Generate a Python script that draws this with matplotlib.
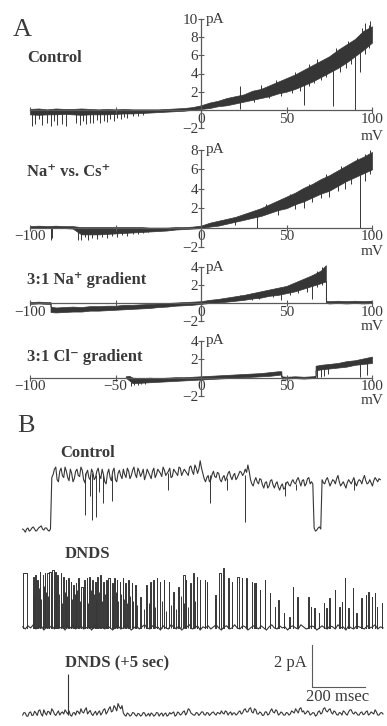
import numpy as np
import matplotlib
matplotlib.use('Agg')
import matplotlib.pyplot as plt

plt.rcParams['font.family'] = ['Liberation Serif', 'DejaVu Serif']

W, H = 387, 726
TRACE = '#363636'
AXIS = '#5a5a5a'
TEXT = '#3a3a3a'

# ---------------- A : current during voltage ramps (pA vs mV) ----------------
volt5 = list(range(-100, 101, 5))

# Control: noise band (upper / lower edge) and brief events (mV, bottom, top)
ctrl_hi = [0.1, 0.15, 0.05, 0.15, 0.1, 0.1, 0.15, 0.1, 0.05, 0.1, 0.05, 0.1, 0.05, 0.05, 0.05, 0.05, 0.1,
           0.15, 0.2, 0.3, 0.5, 0.8, 1.0, 1.3, 1.5, 1.7, 2.1, 2.3, 2.7, 3.1, 3.5, 3.9, 4.4, 4.9, 5.4,
           5.9, 6.6, 7.2, 7.8, 8.7, 9.2]
ctrl_lo = [-0.5, -0.55, -0.5, -0.5, -0.45, -0.5, -0.55, -0.5, -0.5, -0.5, -0.45, -0.4, -0.4, -0.35, -0.3,
           -0.25, -0.2, -0.15, -0.1, 0.0, 0.1, 0.2, 0.4, 0.5, 0.7, 0.9, 1.1, 1.3, 1.5, 1.8, 2.0, 2.3,
           2.7, 3.1, 3.6, 4.1, 4.6, 5.2, 5.9, 6.6, 7.4]
ctrl_dips = [(-99, -1.8, -0.2), (-97, -1.6, -0.2), (-95, -1.0, -0.2), (-93, -1.7, -0.2), (-90, -1.5, -0.2),
             (-88, -1.8, -0.2), (-86, -1.2, -0.2), (-84, -1.7, -0.2), (-81, -1.6, -0.2), (-79, -1.8, -0.2),
             (-73, -1.5, -0.2), (-71, -1.7, -0.2), (-69, -1.2, -0.2), (-67, -1.6, -0.2), (-65, -1.4, -0.2),
             (-63, -1.5, -0.2), (-61, -1.1, -0.2), (-59, -1.4, -0.2), (-57, -1.2, -0.2), (-55, -1.3, -0.2),
             (-53, -1.0, -0.2), (-51, -1.2, -0.2), (-49, -0.9, -0.2), (-47, -1.0, -0.2), (-45, -0.8, -0.2),
             (-43, -0.9, -0.2), (-40, -0.7, -0.2), (-37, -0.7, -0.2), (-34, -0.6, -0.2),
             (23, 0.1, 2.6), (31, 0.9, 1.8), (40, 1.3, 2.6), (47, 1.5, 3.0), (53, 1.8, 3.4), (58, 2.1, 4.0),
             (60, 0.5, 3.6), (63, 2.6, 5.0), (66, 3.0, 4.9), (70, 3.3, 5.2), (73, 3.6, 5.6), (77, 0.4, 5.5),
             (81, 4.2, 6.4), (85, 4.6, 7.0), (88, 5.0, 7.4), (90, 0.0, 7.3), (93, 4.2, 8.3), (96, 6.2, 9.6),
             (98, 6.8, 9.3), (35, 1.6, 2.7), (44, 2.2, 3.3), (55, 2.8, 4.2), (68, 4.0, 5.6), (79, 5.4, 6.8),
             (86, 6.0, 7.6), (94, 7.4, 9.0), (99, 8.0, 9.8)]

# Na+ vs. Cs+
nacs_hi = [0.15, 0.2, 0.15, 0.2, 0.15, 0.15, 0.05, 0.05, 0.05, 0.05, 0.05, 0.05, 0.05, 0.05, 0.0, 0.0, 0.0,
           0.05, 0.05, 0.1, 0.2, 0.5, 0.7, 0.9, 1.1, 1.4, 1.7, 2.0, 2.4, 2.8, 3.2, 3.6, 4.1, 4.5, 5.0,
           5.4, 5.9, 6.4, 6.9, 7.3, 7.8]
nacs_lo = [-0.05, 0.0, -0.05, 0.0, -0.05, -0.1, -0.7, -0.7, -0.7, -0.65, -0.6, -0.55, -0.5, -0.45, -0.4,
           -0.35, -0.3, -0.2, -0.15, -0.1, -0.05, 0.1, 0.2, 0.4, 0.6, 0.8, 1.0, 1.2, 1.5, 1.8, 2.0, 2.4,
           2.7, 3.1, 3.5, 3.8, 4.3, 4.8, 5.2, 5.6, 6.0]
nacs_dips = [(-88, -1.3, 0.0), (-87, -1.1, 0.0), (-72, -1.3, -0.1), (-70, -1.3, -0.1), (-68, -1.0, -0.1),
             (-66, -1.3, -0.1), (-64, -1.1, -0.1), (-61, -1.2, -0.1), (-58, -1.0, -0.1), (-55, -1.1, -0.1),
             (-52, -0.9, -0.1), (-49, -1.0, -0.1), (-46, -0.8, -0.1), (-43, -0.9, -0.1), (-40, -0.7, -0.1),
             (-37, -0.7, -0.1), (-34, -0.6, -0.1), (-31, -0.5, -0.1),
             (20, 0.3, 1.0), (33, 0.0, 1.4), (45, 1.3, 2.6), (55, 1.9, 3.4), (60, 2.0, 3.6), (65, 2.6, 4.2),
             (70, 3.0, 4.6), (75, 3.2, 5.2), (80, 3.8, 5.4), (84, 4.0, 6.0), (88, 4.5, 6.6), (93, 0.0, 6.2),
             (96, 4.8, 7.6), (99, 5.5, 8.0), (38, 1.5, 2.4), (52, 2.4, 3.5), (63, 3.3, 4.5), (73, 4.0, 5.5),
             (82, 4.8, 6.3), (91, 5.6, 7.2)]

# 3:1 Na+ gradient
na3_v = [-100, -95, -90, -88, -88, -85, -80, -75, -70, -65, -60, -55, -50, -45, -40, -35, -30, -25, -20,
         -15, -10, -5, 0, 5, 10, 15, 20, 25, 30, 35, 40, 45, 50, 55, 60, 65, 70, 73, 73, 75, 80, 85,
         90, 95, 100]
na3_hi = [0.1, 0.15, 0.1, 0.1, -0.4, -0.5, -0.45, -0.4, -0.45, -0.35, -0.35, -0.3, -0.3, -0.2, -0.2,
          -0.15, -0.1, -0.05, 0.0, 0.05, 0.1, 0.15, 0.2, 0.35, 0.45, 0.6, 0.75, 0.9, 1.1, 1.3, 1.5, 1.7,
          1.9, 2.3, 2.7, 3.1, 3.6, 4.2, 0.25, 0.2, 0.25, 0.2, 0.25, 0.2, 0.25]
na3_lo = [-0.1, -0.05, -0.1, -0.1, -1.0, -1.05, -1.0, -0.95, -0.95, -0.85, -0.85, -0.8, -0.75, -0.7,
          -0.65, -0.6, -0.55, -0.45, -0.4, -0.3, -0.25, -0.2, -0.1, 0.0, 0.05, 0.15, 0.25, 0.35, 0.5,
          0.6, 0.8, 0.9, 1.1, 1.3, 1.6, 1.9, 2.2, 2.4, 0.0, -0.05, 0.0, -0.05, 0.0, -0.05, 0.0]
na3_dips = [(23, 0.3, 0.9), (30, 0.3, 1.0), (34, 0.4, 1.2), (42, 0.7, 1.5), (47, 0.3, 1.6), (52, 0.9, 2.0),
            (57, 1.1, 2.3), (62, 1.2, 2.8), (65, 0.4, 3.1), (68, 1.8, 3.6), (71, 2.0, 4.0)]

# 3:1 Cl- gradient
cl3_v = [-44, -42, -40, -35, -30, -25, -20, -15, -10, -5, 0, 5, 10, 15, 20, 25, 30, 35, 40, 45, 47, 47,
         50, 55, 60, 65, 67, 67, 70, 75, 80, 85, 90, 95, 100]
cl3_hi = [0.15, 0.2, 0.0, -0.05, 0.0, -0.05, 0.0, 0.05, 0.05, 0.1, 0.15, 0.2, 0.25, 0.3, 0.35, 0.4, 0.45,
          0.5, 0.6, 0.7, 0.7, 0.15, 0.1, 0.15, 0.1, 0.15, 0.2, 1.3, 1.4, 1.5, 1.6, 1.8, 1.9, 2.1, 2.3]
cl3_lo = [0.0, -0.3, -0.6, -0.55, -0.5, -0.45, -0.4, -0.35, -0.3, -0.25, -0.2, -0.15, -0.1, -0.05, 0.0,
          0.05, 0.1, 0.15, 0.2, 0.3, 0.35, -0.1, -0.1, -0.05, -0.1, -0.05, -0.05, 0.8, 0.9, 1.0, 1.1,
          1.2, 1.4, 1.5, 1.6]
cl3_dips = [(-41, -0.9, -0.2), (-39, -0.8, -0.2), (-37, -0.85, -0.2), (-35, -0.7, -0.2), (-33, -0.7, -0.2),
            (68, 0.0, 1.1), (70, 0.1, 1.2), (72, 0.2, 1.2), (74, 0.4, 1.3), (93, 0.1, 1.7), (97, 0.3, 1.9)]

# ---------------- B : single-channel records (pA vs msec) ----------------
# control record, samples at 10, 20, ... msec and the in-between samples at 15, 25, ... msec
b_ctrl = [0.05, -0.1, 0.1, 0.0, 0.15, -0.05, 0.1, 0.2, 0.0, 0.1, -0.05,
          2.5, 2.9, 2.4, 2.8, 2.6, 3.0, 2.5, 2.9, 2.3, 2.8, 2.6, 3.0, 2.4, 2.7, 2.5, 2.9, 2.4, 2.8, 2.6,
          2.9, 2.3, 2.7, 2.5, 2.8, 2.4, 2.7, 2.6,
          2.9, 2.5, 2.8, 2.6, 3.0, 2.5, 2.8, 2.7, 2.4, 2.9, 2.6, 2.8, 2.5, 2.9, 2.7, 3.0, 2.6, 2.8, 2.5,
          2.9, 2.7, 3.0, 2.6, 2.9, 2.7, 3.0, 2.8, 3.1, 2.7,
          3.3,
          2.7, 2.3, 2.6, 2.4, 2.8, 2.5, 2.7, 2.3, 2.6, 2.5, 2.8, 2.4, 2.7, 2.5, 2.8, 2.6, 2.9,
          3.1,
          2.4, 2.1, 2.5, 2.2, 2.4, 2.0, 2.3, 2.1, 2.4, 2.0, 2.3, 1.9, 2.2, 2.0, 2.3, 2.1, 2.4, 2.2, 2.5,
          2.1, 2.4, 2.2, 2.5, 2.3,
          0.1, 0.0, 0.15,
          2.4, 2.2, 2.5, 2.1, 2.4, 2.2, 2.6, 2.1, 2.3, 2.0, 2.4, 2.2, 2.5, 2.1, 2.4, 2.2, 2.6, 2.2, 2.4,
          2.1, 2.5, 2.3, 2.4]
b_ctrl_mid = [0.0, 0.05, -0.05, 0.1, 0.05, 0.0, 0.15, 0.05, 0.1, 0.0,
              0.05,
              2.65, 3.0, 2.3, 2.95, 2.5, 2.8, 2.35, 2.7, 2.45, 2.9, 2.55, 2.85, 2.25, 2.85, 2.4, 2.75,
              2.5, 2.95, 2.45, 2.65, 2.2, 2.9, 2.35, 2.95, 2.3, 2.85,
              2.45,
              2.65, 2.95, 2.45, 2.85, 2.65, 2.95, 2.55, 2.9, 2.6, 2.75, 2.45, 2.95, 2.65, 2.8, 2.55, 2.85,
              2.7, 2.95, 2.55, 2.8, 2.6, 2.95, 2.75, 2.8, 2.6, 3.05, 2.65, 2.95,
              2.9, 2.95,
              2.45, 2.5, 2.3, 2.65, 2.55, 2.75, 2.4, 2.5, 2.35, 2.7, 2.55, 2.6, 2.4, 2.65, 2.75, 2.7,
              2.75, 2.8,
              2.2, 2.35, 2.3, 2.45, 2.15, 2.25, 2.0, 2.35, 2.15, 2.2, 2.05, 2.1, 1.95, 2.25, 2.15, 2.3,
              2.25, 2.4, 2.3, 2.35, 2.1, 2.45, 2.2,
              2.2, -0.05, 0.1, 0.05,
              2.25, 2.4, 2.3, 2.25, 2.35, 2.45, 2.3, 2.2, 2.15, 2.25, 2.3, 2.35, 2.25, 2.3, 2.35, 2.45,
              2.35, 2.25, 2.25, 2.35, 2.4, 2.45]
b_ctrl_dip_t = [245, 265, 272, 287, 300, 313, 347, 560, 717, 780, 849, 1000, 1040, 1260]
b_ctrl_dip_lo = [0.7, 1.6, 0.5, 0.6, 1.8, 1.3, 1.4, 1.9, 1.3, 1.9, 0.4, 1.6, 1.9, 1.9]
b_ctrl_dip_hi = [2.7, 2.6, 2.7, 2.6, 2.7, 2.6, 2.6, 2.7, 2.6, 2.5, 2.6, 2.3, 2.2, 2.4]

# DNDS record: closed-level noise every 10 msec, openings (start msec, amplitude pA)
b_dnds_base = [0.05, -0.05, 0.1, 0.0, 0.15, -0.05, 0.05, 0.1, -0.1, 0.05,
               0.0, 0.1, -0.05, 0.15, 0.0, 0.05, -0.1, 0.1, 0.0, 0.15,
               -0.05, 0.05, 0.1, -0.05, 0.0, 0.1, -0.1, 0.05, 0.15, 0.0,
               0.05, -0.05, 0.1, 0.0, -0.1, 0.05, 0.1, -0.05, 0.0, 0.15,
               0.05, -0.1, 0.0, 0.1, -0.05, 0.05, 0.15, 0.0, -0.05, 0.1,
               0.0, 0.05, -0.1, 0.1, 0.0, -0.05, 0.15, 0.05, -0.05, 0.1,
               -0.1, 0.0, 0.05, 0.15, -0.05, 0.0, 0.1, -0.1, 0.05, 0.0,
               0.1, -0.05, 0.05, 0.15, 0.0, -0.1, 0.05, 0.1, -0.05, 0.0,
               0.15, 0.0, -0.05, 0.1, 0.05, -0.1, 0.0, 0.1, 0.05, -0.05,
               0.1, 0.0, -0.1, 0.05, 0.15, 0.0, -0.05, 0.1, 0.0, 0.05,
               -0.1, 0.05, 0.1, 0.0, -0.05, 0.15, 0.05, -0.05, 0.0, 0.1,
               0.05, -0.1, 0.0, 0.1, 0.0, -0.05, 0.1, 0.05, -0.05, 0.15,
               0.0, 0.05, -0.1, 0.1, 0.0, -0.05, 0.1, 0.05, 0.0, -0.05,
               0.1, 0.0, 0.05, 0.15, -0.05, 0.05, 0.0]
dnds_t = [12, 48, 57, 65, 75, 86, 94, 103, 111, 122, 132, 141, 153, 164, 172, 182, 191, 201, 211, 220,
          230, 242, 252, 262, 272, 283, 292, 302, 315, 325, 333, 346, 356, 365, 377, 387, 398, 409, 421,
          434, 453, 476, 491, 503, 516, 528, 543, 562, 579, 598, 614, 626, 642, 654, 667, 679, 698, 704,
          736, 752, 765, 786, 799, 820, 836, 853, 874, 883, 890, 905, 924, 943, 962, 975, 996, 1016,
          1029, 1046, 1088, 1097, 1110, 1128, 1147, 1155, 1167, 1188, 1205, 1214, 1226, 1239, 1255,
          1268, 1287, 1304, 1314, 1327, 1339, 1346, 1365]
dnds_a = [2.6, 2.44, 2.52, 2.29, 2.68, 2.52, 2.6, 2.6, 2.68, 2.76, 2.68, 2.52, 2.6, 2.44, 2.29, 2.37,
          2.21, 2.05, 2.13, 2.37, 1.97, 2.29, 2.37, 2.44, 2.29, 2.21, 2.44, 2.52, 2.21, 2.29, 2.37, 2.13,
          2.37, 2.29, 2.21, 2.37, 2.13, 2.29, 2.13, 2.05, 1.49, 2.05, 2.21, 2.29, 2.37, 2.21, 2.29, 2.21,
          1.73, 1.97, 2.52, 2.29, 2.13, 2.6, 2.44, 2.29, 2.29, 2.21, 1.57, 2.6, 2.84, 2.37, 2.21, 2.44,
          2.37, 2.37, 2.21, 2.16, 2.13, 1.81, 2.29, 1.65, 1.02, 1.33, 0.70, 0.54, 1.97, 1.49, 1.49, 1.02,
          0.94, 0.70, 1.17, 0.94, 1.41, 1.81, 1.02, 1.25, 2.37, 0.94, 1.89, 0.70, 1.41, 1.57, 1.73, 1.49,
          1.68, 1.02, 1.17]
# longer openings: index in dnds_t -> duration (msec); others last 2 msec
dnds_w = {0: 14, 1: 6, 2: 5, 7: 6, 8: 7, 9: 6, 10: 5, 20: 6, 21: 5, 30: 6, 31: 4, 50: 8, 52: 4,
          59: 6, 60: 4, 63: 5, 65: 4}
dnds_part_t = [52, 70, 80, 90, 98, 107, 116, 127, 137, 147, 158, 168, 177, 186, 196, 206, 216, 225, 236,
               247, 257, 267, 278, 288, 297, 308, 320, 329, 339, 351, 361, 371, 382, 393, 404, 415, 427,
               440, 468, 485, 510, 536, 552, 570, 590, 606, 620, 635, 660]
dnds_part_a = [1.6, 1.9, 1.4, 2.0, 1.7, 1.5, 1.9, 1.3, 1.8, 1.6, 1.2, 1.7, 1.5, 1.9, 1.4, 1.6, 1.8, 1.3,
               1.7, 1.5, 1.2, 1.8, 1.6, 1.4, 1.7, 1.3, 1.6, 1.8, 1.2, 1.5, 1.7, 1.3, 1.6, 1.4, 1.2, 1.5,
               1.3, 1.1, 0.9, 1.2, 1.0, 1.3, 0.8, 1.1, 0.9, 1.5, 1.2, 1.0, 1.3]

# DNDS (+5 sec): closed record at 10, 20, ... and 15, 25, ... msec, one brief opening
b_dnds5 = [0.0, 0.1, -0.05, 0.15, 0.0, 0.1, 0.2, 0.05, 0.25, 0.0,
           0.15, 0.3, 0.05, 0.1, 0.0, 0.15, 0.25, 0.05, 0.0, 0.1,
           0.0, 0.15, 0.3, 0.1, 0.35, 0.15, 0.05, 0.1, 0.0, 0.2,
           0.1, 0.3, 0.15, 0.4, 0.2, 0.35, 0.55, 0.3, 0.1, -0.05,
           0.05, 0.0, 0.1, -0.05, 0.05, 0.0, 0.1, 0.0, -0.05, 0.05,
           0.0, 0.1, 0.05, -0.05, 0.1, 0.0, 0.05, 0.15, 0.0, 0.1,
           0.05, 0.2, 0.1, 0.25, 0.05, 0.0, 0.1, 0.05, 0.15, 0.0,
           0.1, 0.05, 0.15, 0.0, 0.1, 0.2, 0.05, 0.15, 0.1, 0.0,
           0.1, 0.05, 0.2, 0.1, 0.3, 0.15, 0.35, 0.1, 0.25, 0.05,
           0.1, 0.0, 0.15, 0.05, 0.3, 0.1, 0.2, 0.05, 0.1, 0.0,
           0.1, 0.05, 0.15, 0.3, 0.1, 0.35, 0.2, 0.1, 0.15, 0.05,
           0.1, 0.0, 0.2, 0.1, 0.35, 0.15, 0.3, 0.05, 0.15, 0.0,
           0.1, 0.2, 0.05, 0.15, 0.25, 0.05, 0.1, 0.0, 0.15, 0.05,
           0.2, 0.05, 0.1, 0.25, 0.0, 0.1, 0.05]
b_dnds5_mid = [0.12, -0.05, 0.12, -0.02, 0.18, -0.02, 0.25, -0.05, 0.1, 0.18,
               0.02, 0.2, -0.02, 0.2, 0.1, 0.05, 0.15, 0.2, -0.05, 0.12,
               0.2, 0.05, 0.15, 0.25, 0.05, 0.22, -0.02, 0.18, 0.12, 0.0,
               0.25, 0.05, 0.3, 0.15, 0.45, 0.2, 0.4, 0.45, 0.0, 0.1,
               -0.05, 0.12, 0.0, 0.08, -0.05, 0.12, -0.05, 0.08, 0.1, -0.05,
               0.12, -0.05, 0.1, 0.05, -0.05, 0.12, 0.1, -0.05, 0.15, 0.0,
               0.15, 0.0, 0.3, 0.1, 0.0, 0.12, -0.02, 0.15, 0.02, 0.12,
               -0.02, 0.12, 0.05, 0.12, 0.05, 0.1, 0.2, 0.0, 0.15, 0.1,
               0.0, 0.15, 0.05, 0.25, 0.15, 0.3, 0.15, 0.3, 0.05, 0.15,
               -0.02, 0.15, 0.0, 0.2, 0.15, 0.25, 0.0, 0.15, 0.0, 0.12,
               0.0, 0.2, 0.1, 0.2, 0.3, 0.15, 0.05, 0.2, 0.0, 0.12,
               -0.05, 0.15, 0.05, 0.3, 0.2, 0.25, 0.12, 0.2, 0.02, 0.12,
               0.0, 0.15, 0.0, 0.25, 0.1, 0.15, 0.0, 0.12, 0.02, 0.15,
               0.0, 0.15, 0.05, 0.15, 0.0, 0.12]
dnds5_open_t, dnds5_open_a = 181, 1.95

fig = plt.figure(figsize=(W / 100, H / 100), dpi=100)


def px_axes(left, top, right, bottom):
    return fig.add_axes([left / W, 1 - bottom / H, (right - left) / W, (bottom - top) / H])


def label(x, y, s, ha='left', **kw):
    fig.text(x / W, 1 - y / H, s, color=TEXT, va='center', ha=ha, **kw)


def draw_iv(box, ytop, v, hi, lo, dips, xlabels, mv_y):
    ax = px_axes(*box)
    ax.set_xlim(-100, 100)
    ax.set_ylim(-2, ytop)
    ax.fill_between(v, lo, hi, color=TRACE, lw=0.5, clip_on=False)
    dv, dlo, dhi = zip(*dips)
    ax.vlines(dv, dlo, dhi, color=TRACE, lw=0.7, clip_on=False)
    ax.spines['top'].set_visible(False)
    ax.spines['right'].set_visible(False)
    ax.spines['left'].set_position(('data', 0))
    ax.spines['bottom'].set_position(('data', 0))
    for s in ('left', 'bottom'):
        ax.spines[s].set_color(AXIS)
        ax.spines[s].set_linewidth(0.9)
    yt = [-2] + list(range(2, ytop + 1, 2))
    ax.set_yticks(yt)
    ax.set_yticklabels(['\u22122'] + [str(t) for t in yt[1:]])
    ax.set_xticks([-100, -50, 0, 50, 100])
    ax.set_xticklabels(xlabels)
    ax.tick_params(direction='inout', length=4, width=0.8, color=AXIS, labelcolor=TEXT,
                   labelsize=11, pad=0)
    ax.patch.set_visible(False)
    ax.text(3, ytop, 'pA', color=TEXT, fontsize=11, va='center', ha='left')
    label(372, mv_y, 'mV', ha='center', fontsize=11)
    return ax


draw_iv((30, 19, 372, 128), 10, volt5, ctrl_hi, ctrl_lo, ctrl_dips, ['', '', '0', '50', '100'], 137)
draw_iv((30, 150, 372, 247), 8, volt5, nacs_hi, nacs_lo, nacs_dips,
        ['\u2212100', '', '0', '50', '100'], 252)
draw_iv((30, 267, 372, 321), 4, na3_v, na3_hi, na3_lo, na3_dips, ['\u2212100', '', '0', '50', '100'], 326)
draw_iv((30, 341, 372, 396), 4, cl3_v, cl3_hi, cl3_lo, cl3_dips,
        ['\u2212100', '\u221250', '0', '50', '100'], 401)

label(13, 30, 'A', fontsize=19)
label(27, 58, 'Control', fontsize=12, fontweight='bold')
label(27, 172, 'Na\u207a vs. Cs\u207a', fontsize=12, fontweight='bold')
label(27, 280, '3:1 Na\u207a gradient', fontsize=12, fontweight='bold')
label(27, 357, '3:1 Cl\u207b gradient', fontsize=12, fontweight='bold')

# ---------------- B ----------------
axb = px_axes(20, 440, 387, 726)
axb.set_xlim(0, 1385)
axb.set_ylim(0, 13.62)
axb.axis('off')

CTRL_BASE, DNDS_BASE, DNDS5_BASE = 9.33, 4.67, 0.52


def merged(main, mid):
    # main samples at 10, 20, ... msec, mid samples at 15, 25, ... msec
    t = np.concatenate([np.arange(1, len(main) + 1) * 10, np.arange(len(mid)) * 10 + 15])
    y = np.concatenate([main, mid])
    order = np.argsort(t)
    return t[order], y[order]


t_c, y_c = merged(b_ctrl, b_ctrl_mid)
axb.plot(t_c, CTRL_BASE + y_c, color=TRACE, lw=0.8)
axb.vlines(b_ctrl_dip_t, CTRL_BASE + np.array(b_ctrl_dip_lo), CTRL_BASE + np.array(b_ctrl_dip_hi),
           color=TRACE, lw=0.7)

t_dnds = np.arange(1, len(b_dnds_base) + 1) * 10
axb.plot(t_dnds, DNDS_BASE + np.array(b_dnds_base), color=TRACE, lw=0.8)
for i, (t, a) in enumerate(zip(dnds_t, dnds_a)):
    w = dnds_w.get(i, 2)
    axb.plot([t, t, t + w, t + w], [DNDS_BASE, DNDS_BASE + a, DNDS_BASE + a, DNDS_BASE],
             color=TRACE, lw=0.7)
axb.vlines(dnds_part_t, DNDS_BASE, DNDS_BASE + np.array(dnds_part_a), color=TRACE, lw=0.7)

t_5, y_5 = merged(b_dnds5, b_dnds5_mid)
axb.plot(t_5, DNDS5_BASE + y_5, color=TRACE, lw=0.8)
axb.vlines([dnds5_open_t], DNDS5_BASE, DNDS5_BASE + dnds5_open_a, color=TRACE, lw=0.8)

# scale bar: 2 pA, 200 msec
axb.plot([1102, 1102, 1302], [3.86, 1.86, 1.86], color=AXIS, lw=0.8)

label(17, 426, 'B', fontsize=19)
label(60, 453, 'Control', fontsize=12, fontweight='bold')
label(65, 554, 'DNDS', fontsize=12, fontweight='bold')
label(65, 663, 'DNDS (+5 sec)', fontsize=12, fontweight='bold')
label(307, 663, '2 pA', ha='right', fontsize=12)
label(338, 697, '200 msec', ha='center', fontsize=12)

fig.savefig('out.png', dpi=100)
